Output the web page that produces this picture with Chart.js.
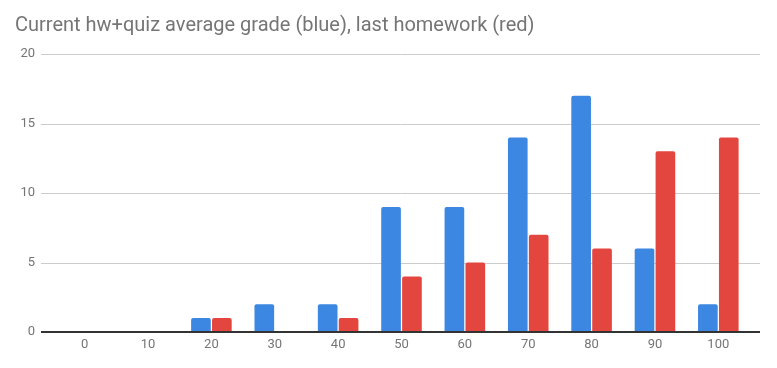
<!DOCTYPE html>
<html>
<head>
<meta charset="utf-8">
<script src="https://cdn.jsdelivr.net/npm/chart.js@4/dist/chart.umd.min.js"></script>
<style>
  html, body { margin: 0; padding: 0; background: #fff; }
  #wrap { width: 777px; height: 368px; }
</style>
</head>
<body>
<div id="wrap"><canvas id="chartGrades"></canvas></div>
<script>
const grades = ['0', '10', '20', '30', '40', '50', '60', '70', '80', '90', '100']
const averageGrade = [0, 0, 1, 2, 2, 9, 9, 14, 17, 6, 2]
const lastHomework = [0, 0, 1, 0, 1, 4, 5, 7, 6, 13, 14]
const yTicks = [0, 5, 10, 15, 20]

const blue = '#3b87e2'
const red = '#e3463f'
const textGrey = '#757575'

// gridlines in google sheets run a bit past the bars on both sides
const wideGridPlugin = {
  id: 'wideGrid',
  beforeDatasetsDraw: (chart) => {
    const { ctx, chartArea, scales } = chart
    const yScale = scales.y
    ctx.save()
    ctx.strokeStyle = '#cccccc'
    ctx.lineWidth = 1
    yTicks.forEach(v => {
      if (v === 0) return
      const y = Math.round(yScale.getPixelForValue(v)) + 0.5
      ctx.beginPath()
      ctx.moveTo(chartArea.left - 12, y)
      ctx.lineTo(chartArea.right + 10, y)
      ctx.stroke()
    })
    ctx.restore()
  },
  afterDatasetsDraw: (chart) => {
    const { ctx, chartArea, scales } = chart
    const y = scales.y.getPixelForValue(0)
    ctx.save()
    ctx.strokeStyle = '#333333'
    ctx.lineWidth = 2
    ctx.beginPath()
    ctx.moveTo(chartArea.left - 12, y)
    ctx.lineTo(chartArea.right + 10, y)
    ctx.stroke()
    ctx.restore()
  }
}

new Chart(document.getElementById('chartGrades'), {
  type: 'bar',
  data: {
    labels: grades,
    datasets: [
      {
        label: 'Current hw+quiz average',
        data: averageGrade,
        backgroundColor: blue,
        borderRadius: 2,
        borderSkipped: 'start',
        barPercentage: 0.94,
        categoryPercentage: 0.66
      },
      {
        label: 'Last homework',
        data: lastHomework,
        backgroundColor: red,
        borderRadius: 2,
        borderSkipped: 'start',
        barPercentage: 0.94,
        categoryPercentage: 0.66
      }
    ]
  },
  options: {
    responsive: true,
    maintainAspectRatio: false,
    animation: false,
    layout: {
      padding: { left: 15, right: 27, top: 0, bottom: 0 }
    },
    plugins: {
      legend: { display: false },
      tooltip: { enabled: false },
      title: {
        display: true,
        text: 'Current hw+quiz average grade (blue), last homework (red)',
        align: 'start',
        color: textGrey,
        font: { size: 20, family: 'Roboto', weight: 'normal' },
        padding: { top: 14, bottom: 16 }
      }
    },
    scales: {
      x: {
        grid: { display: false, drawTicks: false },
        border: { display: false },
        ticks: {
          color: textGrey,
          padding: 5,
          maxRotation: 0,
          font: { size: 13, family: 'Roboto' }
        },
        afterFit: (scale) => { scale.height = 36 }
      },
      y: {
        min: 0,
        max: 20,
        grid: { display: false, drawTicks: false },
        border: { display: false },
        ticks: {
          stepSize: 5,
          color: textGrey,
          padding: 18,
          font: { size: 13, family: 'Roboto' }
        },
        afterFit: (scale) => { scale.width = 38 }
      }
    }
  },
  plugins: [wideGridPlugin]
})
</script>
</body>
</html>
